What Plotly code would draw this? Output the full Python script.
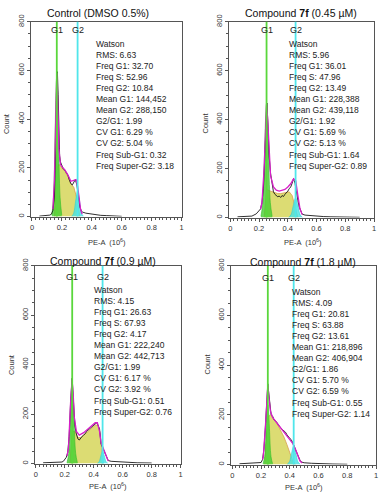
import plotly.graph_objects as go

# PE-A in units of 10^6, counts per channel

# --- Control (DMSO 0.5%)
ctrl_x = [0.05, 0.08, 0.10, 0.12, 0.13, 0.14, 0.15, 0.155, 0.16, 0.165, 0.17, 0.175, 0.18, 0.185,
          0.19, 0.20, 0.21, 0.22, 0.23, 0.24, 0.25, 0.26, 0.27, 0.28, 0.29, 0.30, 0.31, 0.32,
          0.33, 0.34, 0.36, 0.38, 0.40, 0.43, 0.46, 0.50, 0.55, 0.60]
ctrl_count = [2, 3, 4, 6, 10, 25, 80, 160, 300, 480, 595, 500, 330, 250,
              225, 205, 195, 190, 180, 170, 150, 135, 130, 145, 152, 130, 80, 40,
              22, 18, 14, 12, 10, 8, 5, 4, 2, 1]
ctrl_fit_x = [0.14, 0.15, 0.16, 0.166, 0.172, 0.18, 0.19, 0.20, 0.22, 0.24, 0.26, 0.28,
              0.295, 0.305, 0.315, 0.325, 0.335]
ctrl_fit = [30, 150, 430, 590, 480, 280, 215, 205, 192, 172, 145, 150, 152, 125, 70, 30, 10]
ctrl_g1_x = [0.133, 0.144, 0.155, 0.1605, 0.166, 0.1715, 0.177, 0.188, 0.199]
ctrl_g1 = [6, 78, 352, 512, 580, 512, 352, 78, 6]
ctrl_g2_x = [0.266, 0.279, 0.292, 0.305, 0.318, 0.331, 0.344]
ctrl_g2 = [1, 14, 64, 105, 64, 14, 1]
ctrl_s_x = [0.15, 0.166, 0.18, 0.20, 0.22, 0.24, 0.26, 0.28, 0.30, 0.32]
ctrl_s = [0, 200, 215, 200, 185, 165, 135, 120, 75, 0]
ctrl_peaks = [0.166, 0.305]
ctrl_stats = ["Watson", "RMS: 6.63", "Freq G1: 32.70", "Freq S: 52.96", "Freq G2: 10.84",
              "Mean G1: 144,452", "Mean G2: 288,150", "G2/G1: 1.99", "CV G1: 6.29 %",
              "CV G2: 5.04 %", "Freq Sub-G1: 0.32", "Freq Super-G2: 3.18"]

# --- Compound 7f (0.45 uM)
c045_x = [0.05, 0.10, 0.15, 0.18, 0.20, 0.21, 0.22, 0.23, 0.24, 0.245, 0.25, 0.255, 0.26, 0.265,
          0.27, 0.28, 0.29, 0.30, 0.31, 0.32, 0.33, 0.34, 0.35, 0.36, 0.37, 0.38, 0.39, 0.40,
          0.41, 0.42, 0.43, 0.44, 0.45, 0.46, 0.47, 0.48, 0.49, 0.50, 0.52, 0.55, 0.60, 0.65,
          0.70, 0.80, 0.90]
c045_count = [3, 4, 6, 15, 30, 35, 60, 120, 250, 330, 430, 468, 400, 320,
              250, 180, 130, 105, 95, 90, 85, 88, 82, 90, 86, 95, 100, 108,
              118, 125, 140, 160, 140, 100, 70, 42, 25, 14, 10, 8, 6, 4,
              3, 2, 1]
c045_fit_x = [0.21, 0.22, 0.235, 0.245, 0.252, 0.26, 0.27, 0.28, 0.30, 0.32, 0.34, 0.36, 0.38,
              0.40, 0.42, 0.44, 0.455, 0.47, 0.485, 0.50]
c045_fit = [35, 60, 200, 380, 465, 400, 260, 170, 125, 112, 108, 110, 115, 125, 138, 158, 150,
            90, 35, 12]
c045_g1_x = [0.213, 0.226, 0.239, 0.2455, 0.252, 0.2585, 0.265, 0.278, 0.291]
c045_g1 = [5, 62, 279, 406, 460, 406, 279, 62, 5]
c045_g2_x = [0.406, 0.422, 0.438, 0.454, 0.470, 0.486, 0.502]
c045_g2 = [1, 11, 49, 80, 49, 11, 1]
c045_s_x = [0.235, 0.252, 0.27, 0.29, 0.31, 0.33, 0.35, 0.37, 0.39, 0.41, 0.43, 0.45, 0.47]
c045_s = [0, 115, 110, 105, 100, 98, 98, 100, 105, 105, 90, 45, 0]
c045_peaks = [0.252, 0.454]
c045_stats = ["Watson", "RMS: 5.96", "Freq G1: 36.01", "Freq S: 47.96", "Freq G2: 13.49",
              "Mean G1: 228,388", "Mean G2: 439,118", "G2/G1: 1.92", "CV G1: 5.69 %",
              "CV G2: 5.13 %", "Freq Sub-G1: 1.64", "Freq Super-G2: 0.89"]

# --- Compound 7f (0.9 uM)
c09_x = [0.05, 0.10, 0.15, 0.18, 0.19, 0.20, 0.21, 0.22, 0.23, 0.24, 0.245, 0.25, 0.255, 0.26,
         0.265, 0.27, 0.28, 0.29, 0.30, 0.31, 0.32, 0.33, 0.34, 0.35, 0.36, 0.37, 0.38, 0.39,
         0.40, 0.41, 0.42, 0.43, 0.44, 0.45, 0.46, 0.47, 0.48, 0.49, 0.50, 0.52, 0.55, 0.60,
         0.65, 0.70, 0.80]
c09_count = [3, 3, 4, 6, 9, 15, 25, 45, 110, 250, 330, 345, 300, 240,
             180, 150, 120, 100, 95, 105, 110, 115, 120, 130, 135, 140, 145, 150,
             155, 160, 165, 155, 140, 80, 65, 52, 35, 20, 12, 9, 8, 7,
             4, 3, 2]
c09_fit_x = [0.215, 0.225, 0.24, 0.25, 0.258, 0.265, 0.28, 0.30, 0.33, 0.36, 0.39, 0.41, 0.425,
             0.44, 0.45, 0.46, 0.475, 0.49, 0.50]
c09_fit = [30, 60, 250, 340, 280, 190, 130, 115, 125, 140, 155, 165, 165, 130, 85, 70, 45, 18, 10]
c09_g1_x = [0.215, 0.227, 0.239, 0.245, 0.251, 0.257, 0.263, 0.275, 0.287]
c09_g1 = [3, 41, 182, 265, 300, 265, 182, 41, 3]
c09_g2_x = [0.425, 0.437, 0.449, 0.461, 0.473, 0.485, 0.497]
c09_g2 = [1, 7, 30, 50, 30, 7, 1]
c09_s_x = [0.235, 0.251, 0.27, 0.29, 0.31, 0.33, 0.35, 0.37, 0.39, 0.41, 0.43, 0.445, 0.455, 0.465]
c09_s = [0, 130, 130, 105, 105, 115, 125, 135, 145, 155, 155, 120, 60, 0]
c09_peaks = [0.251, 0.461]
c09_stats = ["Watson", "RMS: 4.15", "Freq G1: 26.63", "Freq S: 67.93", "Freq G2: 4.17",
             "Mean G1: 222,240", "Mean G2: 442,713", "G2/G1: 1.99", "CV G1: 6.17 %",
             "CV G2: 3.92 %", "Freq Sub-G1: 0.51", "Freq Super-G2: 0.76"]

# --- Compound 7f (1.8 uM)
c18_x = [0.05, 0.10, 0.15, 0.19, 0.20, 0.21, 0.22, 0.23, 0.24, 0.247, 0.255, 0.26, 0.27, 0.28,
         0.29, 0.30, 0.31, 0.32, 0.33, 0.34, 0.35, 0.36, 0.37, 0.38, 0.39, 0.40, 0.41, 0.42,
         0.43, 0.44, 0.45, 0.46, 0.47, 0.48, 0.50, 0.55, 0.60, 0.65, 0.70, 0.80]
c18_count = [3, 4, 4, 5, 8, 20, 60, 150, 260, 325, 280, 240, 200, 195,
             180, 175, 170, 160, 150, 145, 140, 135, 130, 120, 110, 105, 100, 90,
             75, 60, 45, 30, 18, 10, 7, 5, 5, 3, 2, 1]
c18_fit_x = [0.21, 0.215, 0.23, 0.24, 0.247, 0.255, 0.265, 0.28, 0.30, 0.32, 0.34, 0.36, 0.38,
             0.40, 0.42, 0.44, 0.455, 0.47, 0.485]
c18_fit = [20, 30, 150, 260, 320, 270, 215, 190, 175, 160, 145, 130, 115, 100, 85, 60, 35, 15, 6]
c18_g1_x = [0.214, 0.225, 0.236, 0.2415, 0.247, 0.2525, 0.258, 0.269, 0.28]
c18_g1 = [3, 32, 146, 212, 240, 212, 146, 32, 3]
c18_g2_x = [0.382, 0.397, 0.412, 0.427, 0.442, 0.457, 0.472]
c18_g2 = [1, 10, 45, 75, 45, 10, 1]
c18_s_x = [0.225, 0.247, 0.265, 0.28, 0.30, 0.32, 0.34, 0.36, 0.38, 0.40, 0.42, 0.44]
c18_s = [0, 190, 200, 190, 175, 155, 135, 110, 80, 45, 15, 0]
c18_peaks = [0.247, 0.427]
c18_stats = ["Watson", "RMS: 4.09", "Freq G1: 20.81", "Freq S: 63.88", "Freq G2: 13.61",
             "Mean G1: 218,896", "Mean G2: 406,904", "G2/G1: 1.86", "CV G1: 5.70 %",
             "CV G2: 6.59 %", "Freq Sub-G1: 0.55", "Freq Super-G2: 1.14"]

titles = ["Control (DMSO 0.5%)", "Compound <b>7f</b> (0.45 µM)",
          "Compound <b>7f</b> (0.9 µM)", "Compound <b>7f</b> (1.8 µM)"]
y_ticks = [0, 200, 400, 600, 800]
x_ticks = [0, 0.2, 0.4, 0.6, 0.8, 1]
x_tick_text = ["0", "0.2", "0.4", "0.6", "0.8", "1"]

W, H = 382, 497
FONT = "Liberation Sans, Arial, sans-serif"
GREEN = "rgb(90,215,60)"
CYAN = "rgb(80,230,235)"


def px(x):
    return x / W


def py(y):
    return 1 - y / H


# pixel boxes (left, top, right, bottom) and label spots for each panel
layout_px = [
    dict(box=(30, 15, 182, 213), title=(98, 6), count=(5, 118), pe=(107, 239), stats=(94, 30), gy=23),
    dict(box=(230, 15, 376, 214), title=(302, 6), count=(206, 118), pe=(304, 239), stats=(288, 30), gy=23),
    dict(box=(34, 263, 181, 464), title=(103, 258), count=(10, 363), pe=(108, 487), stats=(92, 281), gy=274),
    dict(box=(232, 263, 378, 465), title=(304, 259), count=(208, 363), pe=(305, 488), stats=(291, 283), gy=275),
]

panels = [
    (ctrl_x, ctrl_count, ctrl_fit_x, ctrl_fit, ctrl_g1_x, ctrl_g1, ctrl_g2_x, ctrl_g2,
     ctrl_s_x, ctrl_s, ctrl_peaks, ctrl_stats),
    (c045_x, c045_count, c045_fit_x, c045_fit, c045_g1_x, c045_g1, c045_g2_x, c045_g2,
     c045_s_x, c045_s, c045_peaks, c045_stats),
    (c09_x, c09_count, c09_fit_x, c09_fit, c09_g1_x, c09_g1, c09_g2_x, c09_g2,
     c09_s_x, c09_s, c09_peaks, c09_stats),
    (c18_x, c18_count, c18_fit_x, c18_fit, c18_g1_x, c18_g1, c18_g2_x, c18_g2,
     c18_s_x, c18_s, c18_peaks, c18_stats),
]

fig = go.Figure()
annotations = []
shapes = []

for i, (p, lp) in enumerate(zip(panels, layout_px)):
    dx, dy, fx, fy, g1x, g1y, g2x, g2y, sx, sy, peaks, stats = p
    n = "" if i == 0 else str(i + 1)
    xa, ya = "x" + n, "y" + n
    l, t, r, b = lp["box"]

    # S phase, G1 and G2 model parts, then raw histogram, then total fit on top
    fig.add_trace(go.Scatter(x=sx, y=sy, xaxis=xa, yaxis=ya, mode="lines", fill="tozeroy",
                             line=dict(color="rgb(215,160,80)", width=0.8),
                             fillcolor="rgb(220,220,115)"))
    fig.add_trace(go.Scatter(x=g1x, y=g1y, xaxis=xa, yaxis=ya, mode="lines", fill="tozeroy",
                             line=dict(color="rgb(50,190,40)", width=0.6, shape="spline"),
                             fillcolor="rgba(70,205,50,0.8)"))
    fig.add_trace(go.Scatter(x=g2x, y=g2y, xaxis=xa, yaxis=ya, mode="lines", fill="tozeroy",
                             line=dict(color="rgb(50,205,215)", width=0.6, shape="spline"),
                             fillcolor="rgba(70,228,228,0.8)"))
    fig.add_trace(go.Scatter(x=dx, y=dy, xaxis=xa, yaxis=ya, mode="lines",
                             line=dict(color="rgb(25,25,25)", width=0.9)))
    fig.add_trace(go.Scatter(x=fx, y=fy, xaxis=xa, yaxis=ya, mode="lines",
                             line=dict(color="rgb(215,30,200)", width=1.3)))

    for xv, col in zip(peaks, [GREEN, CYAN]):
        shapes.append(dict(type="line", xref=xa, yref=ya + " domain", x0=xv, x1=xv, y0=0, y1=1,
                           line=dict(color=col, width=1.8)))
    for xv, lab in zip(peaks, ["G1", "G2"]):
        annotations.append(dict(x=xv, xref=xa, y=py(lp["gy"]), yref="paper", text=lab,
                                xanchor="center", yanchor="middle",
                                showarrow=False, font=dict(size=9, color="#222")))

    axis_common = dict(showline=True, linecolor="#555", linewidth=1, mirror=True,
                       ticks="outside", ticklen=3, tickcolor="#555", showgrid=False,
                       zeroline=False, tickfont=dict(size=7.5, color="#333", family=FONT))
    fig.update_layout(**{
        "xaxis" + n: dict(domain=[px(l), px(r)], range=[-0.008, 1.0], anchor=ya,
                          tickvals=x_ticks, ticktext=x_tick_text,
                          minor=dict(dtick=0.025, ticklen=2, tickcolor="#555", ticks="outside"),
                          **axis_common),
        "yaxis" + n: dict(domain=[py(b), py(t)], range=[0, 800], anchor=xa,
                          tickvals=y_ticks, tickangle=-90,
                          minor=dict(dtick=50, ticklen=2, tickcolor="#555", ticks="outside"),
                          **axis_common),
    })

    annotations.append(dict(x=px(lp["title"][0]), y=py(lp["title"][1]), xref="paper", yref="paper",
                            xanchor="center", yanchor="middle",
                            text=titles[i], showarrow=False, font=dict(size=10.5, color="#111")))
    annotations.append(dict(x=px(lp["count"][0]), y=py(lp["count"][1]), xref="paper", yref="paper",
                            xanchor="center", yanchor="middle",
                            text="Count", textangle=-90, showarrow=False,
                            font=dict(size=7.5, color="#333")))
    annotations.append(dict(x=px(lp["pe"][0]), y=py(lp["pe"][1]), xref="paper", yref="paper",
                            xanchor="center", yanchor="middle",
                            text="PE-A  (10<sup>6</sup>)", showarrow=False,
                            font=dict(size=7.5, color="#333")))
    annotations.append(dict(x=px(lp["stats"][0]), y=py(lp["stats"][1]), xref="paper", yref="paper",
                            xanchor="left", yanchor="top", align="left",
                            text="<br>".join(stats), showarrow=False,
                            font=dict(size=8.5, color="#222")))

fig.update_layout(width=W, height=H, margin=dict(l=0, r=0, t=0, b=0),
                  paper_bgcolor="white", plot_bgcolor="white", showlegend=False,
                  font=dict(family=FONT), annotations=annotations, shapes=shapes)

# the page body has a default 8px margin; drop it so the figure sits at the window origin
fig.write_html("out.html", config={"displayModeBar": False},
               post_script="document.body.style.margin='0';")
